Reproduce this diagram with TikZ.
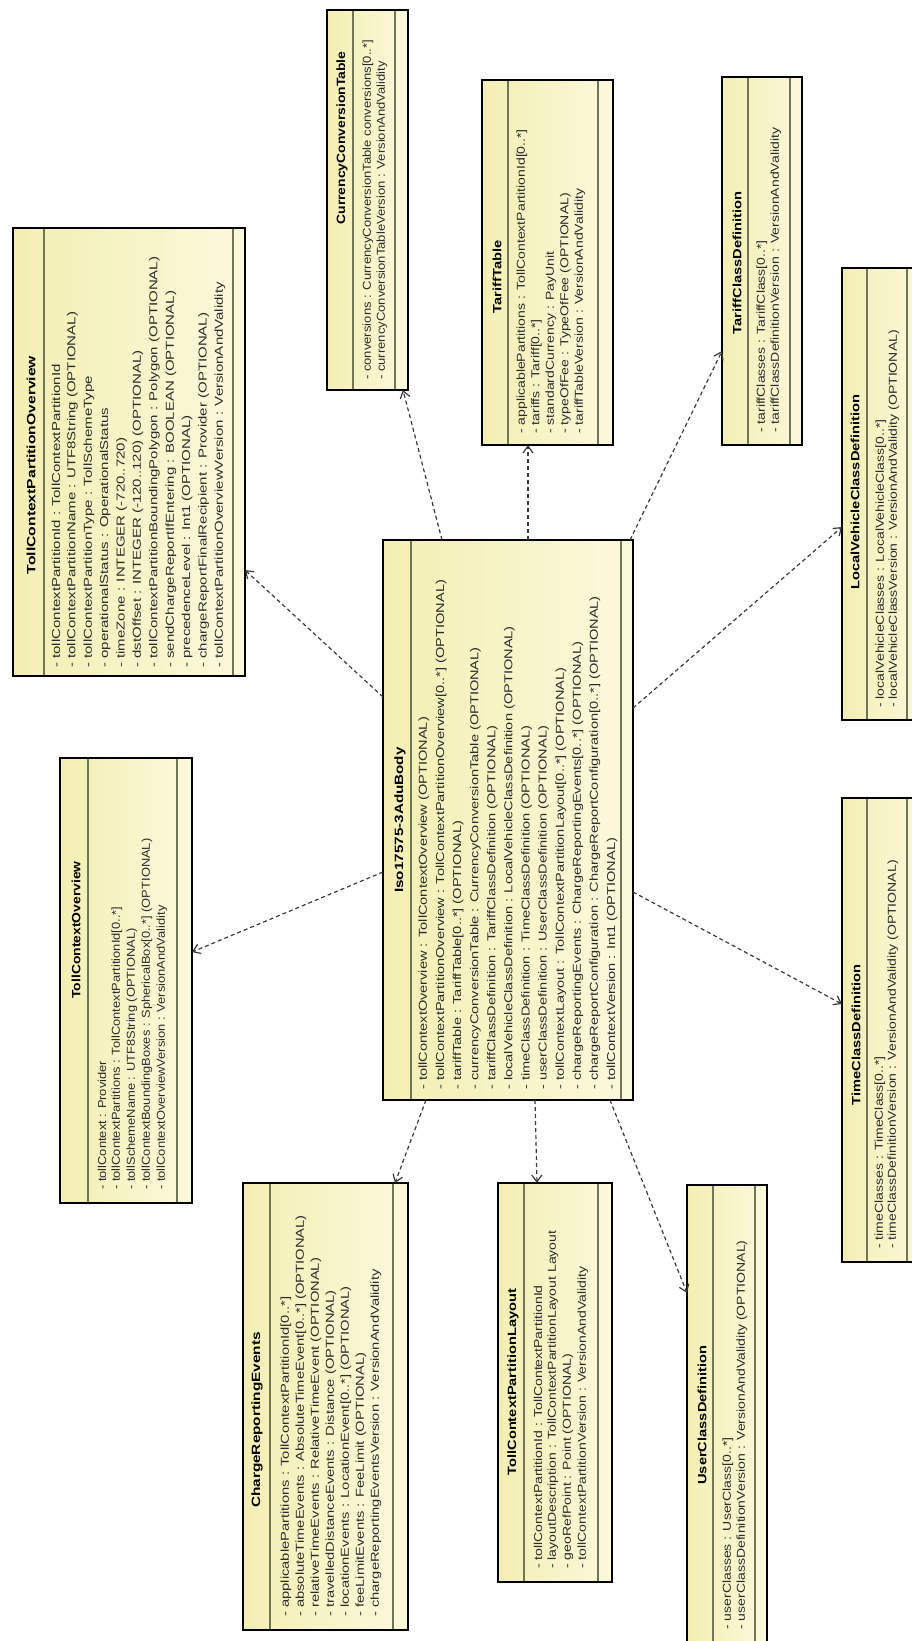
\documentclass[tikz,border=0pt]{standalone}
\usepackage{fontspec}
\setmainfont{Liberation Sans}
\usetikzlibrary{arrows.meta,calc}

\definecolor{boxfillA}{HTML}{F3EFB3}
\definecolor{boxfillB}{HTML}{FBF9DC}
\definecolor{sepcol}{HTML}{6F7658}
\definecolor{inkcol}{HTML}{2B2B2B}
\definecolor{depcol}{HTML}{3A3A3A}

\tikzset{
  classbox/.style={draw=black, line width=1.6pt, left color=boxfillA, right color=boxfillB,
    inner sep=0pt, outer sep=0pt},
  sepline/.style={draw=sepcol, line width=1.5pt},
  titletext/.style={rotate=90, xscale=1.22, inner sep=0pt,
    font=\fontsize{12}{14}\selectfont\bfseries, text=black},
  attrtext/.style={rotate=90, xscale=1.22, anchor=west, inner sep=0pt,
    font=\fontsize{11.5}{13}\selectfont, text=inkcol},
  dependency/.style={draw=depcol, line width=1.2pt, dash pattern=on 4pt off 3pt,
    -{Straight Barb[length=7pt,width=10pt,line width=1.2pt]}},
}

% frame of a class: name, left, top, right, bottom (page pixels, y downwards)
\newcommand{\classframe}[5]{%
  \node[classbox, minimum width={(#4-#2)*1pt}, minimum height={(#5-#3)*1pt}]
    (#1) at ({(#2+#4)/2},{-(#3+#5)/2}) {};}
% compartment separators: first x, second x, top, bottom
\newcommand{\classseps}[4]{%
  \draw[sepline] (#1,{-(#3+0.8)}) -- (#1,{-(#4-0.8)});
  \draw[sepline] (#2,{-(#3+0.8)}) -- (#2,{-(#4-0.8)});}
% class name: name, x, y, stretch, text
\newcommand{\classtitle}[5]{%
  \node[titletext, xscale=#4] (#1-title) at (#2,-#3) {#5};}
% attributes: name, first x, step, start y, stretch, list
\newcommand{\classattrs}[6]{%
  \foreach \attrline [count=\k] in {#6} {
    \node[attrtext, xscale=#5] (#1-attr\k) at ({#2+(\k-1)*#3},-#4) {\attrline};
  }}

\begin{document}
\begin{tikzpicture}[x=1pt,y=1pt]
\useasboundingbox (0,0) rectangle (912,-1641);
\fill[white] (0,0) rectangle (912,-1641);
\begin{scope}
\clip (0,0) rectangle (912,-1641);

% TollContextPartitionOverview
\classframe{tcpo}{13}{228}{245}{676}
\classseps{44}{233}{228}{676}
\classtitle{tcpo}{31}{465}{1.07}{TollContextPartitionOverview}
\classattrs{tcpo}{56}{16.4}{668}{1.07}{
  {- tollContextPartitionId : TollContextPartitionId},
  {- tollContextPartitionName : UTF8String (OPTIONAL)},
  {- tollContextPartitionType : TollSchemeType},
  {- operationalStatus : OperationalStatus},
  {- timeZone : INTEGER (-720..720)},
  {- dstOffset : INTEGER (-120..120) (OPTIONAL)},
  {- tollContextPartitionBoundingPolygon : Polygon (OPTIONAL)},
  {- sendChargeReportIfEntering : BOOLEAN (OPTIONAL)},
  {- precedenceLevel : Int1 (OPTIONAL)},
  {- chargeReportFinalRecipient : Provider (OPTIONAL)},
  {- tollContextPartitionOverviewVersion : VersionAndValidity}}

% CurrencyConversionTable
\classframe{cct}{327}{10}{408}{390}
\classseps{353}{395}{10}{390}
\classtitle{cct}{342}{138}{0.95}{CurrencyConversionTable}
\classattrs{cct}{368}{14}{380}{0.93}{
  {- conversions : CurrencyConversionTable conversions[0..*]},
  {- currencyConversionTableVersion : VersionAndValidity}}

% TariffTable
\classframe{tt}{482}{80}{613}{445}
\classseps{508}{598}{80}{445}
\classtitle{tt}{497}{277}{1.0}{TariffTable}
\classattrs{tt}{522}{14.5}{434}{1.0}{
  {- applicablePartitions : TollContextPartitionId[0..*]},
  {- tariffs : Tariff[0..*]},
  {- standardCurrency : PayUnit},
  {- typeOfFee : TypeOfFee (OPTIONAL)},
  {- tariffTableVersion : VersionAndValidity}}

% TariffClassDefinition
\classframe{tcd}{722}{77}{802}{445}
\classseps{748}{790}{77}{445}
\classtitle{tcd}{737}{263}{1.0}{TariffClassDefinition}
\classattrs{tcd}{762}{14}{433}{1.0}{
  {- tariffClasses : TariffClass[0..*]},
  {- tariffClassDefinitionVersion : VersionAndValidity}}

% LocalVehicleClassDefinition
\classframe{lvcd}{842}{268}{924}{720}
\classseps{867}{907}{268}{720}
\classtitle{lvcd}{855}{492}{1.0}{LocalVehicleClassDefinition}
\classattrs{lvcd}{881}{13}{708}{1.0}{
  {- localVehicleClasses : LocalVehicleClass[0..*]},
  {- localVehicleClassVersion : VersionAndValidity (OPTIONAL)}}

% TimeClassDefinition
\classframe{tdef}{842}{798}{924}{1262}
\classseps{867}{907}{798}{1262}
\classtitle{tdef}{856}{1035}{1.0}{TimeClassDefinition}
\classattrs{tdef}{880}{13}{1249}{1.0}{
  {- timeClasses : TimeClass[0..*]},
  {- timeClassDefinitionVersion : VersionAndValidity (OPTIONAL)}}

% Iso17575-3AduBody
\classframe{iso}{383}{540}{633}{1100}
\classseps{411}{621}{540}{1100}
\classtitle{iso}{400}{820}{1.04}{Iso17575-3AduBody}
\classattrs{iso}{424}{17.1}{1090}{1.04}{
  {- tollContextOverview : TollContextOverview (OPTIONAL)},
  {- tollContextPartitionOverview : TollContextPartitionOverview[0..*] (OPTIONAL)},
  {- tariffTable : TariffTable[0..*] (OPTIONAL)},
  {- currencyConversionTable : CurrencyConversionTable (OPTIONAL)},
  {- tariffClassDefinition : TariffClassDefinition (OPTIONAL)},
  {- localVehicleClassDefinition : LocalVehicleClassDefinition (OPTIONAL)},
  {- timeClassDefinition : TimeClassDefinition (OPTIONAL)},
  {- userClassDefinition : UserClassDefinition (OPTIONAL)},
  {- tollContextLayout : TollContextPartitionLayout[0..*] (OPTIONAL)},
  {- chargeReportingEvents : ChargeReportingEvents[0..*] (OPTIONAL)},
  {- chargeReportConfiguration : ChargeReportConfiguration[0..*] (OPTIONAL)},
  {- tollContextVersion : Int1 (OPTIONAL)}}

% TollContextOverview
\classframe{tco}{60}{758}{192}{1203}
\classseps{88}{177}{758}{1203}
\classtitle{tco}{76}{930}{0.95}{TollContextOverview}
\classattrs{tco}{102}{15}{1190}{0.92}{
  {- tollContext : Provider},
  {- tollContextPartitions : TollContextPartitionId[0..*]},
  {- tollSchemeName : UTF8String (OPTIONAL)},
  {- tollContextBoundingBoxes : SphericalBox[0..*] (OPTIONAL)},
  {- tollContextOverviewVersion : VersionAndValidity}}

% ChargeReportingEvents
\classframe{cre}{243}{1183}{408}{1630}
\classseps{270}{393}{1183}{1630}
\classtitle{cre}{257}{1420}{1.05}{ChargeReportingEvents}
\classattrs{cre}{286}{15}{1617}{1.05}{
  {- applicablePartitions : TollContextPartitionId[0..*]},
  {- absoluteTimeEvents : AbsoluteTimeEvent[0..*] (OPTIONAL)},
  {- relativeTimeEvents : RelativeTimeEvent (OPTIONAL)},
  {- travelledDistanceEvents : Distance (OPTIONAL)},
  {- locationEvents : LocationEvent[0..*] (OPTIONAL)},
  {- feeLimitEvents : FeeLimit (OPTIONAL)},
  {- chargeReportingEventsVersion : VersionAndValidity}}

% TollContextPartitionLayout
\classframe{tcpl}{498}{1183}{612}{1582}
\classseps{524}{598}{1183}{1582}
\classtitle{tcpl}{513}{1382}{1.0}{TollContextPartitionLayout}
\classattrs{tcpl}{538}{15}{1569}{1.0}{
  {- tollContextPartitionId : TollContextPartitionId},
  {- layoutDescription : TollContextPartitionLayout Layout},
  {- geoRefPoint : Point (OPTIONAL)},
  {- tollContextPartitionVersion : VersionAndValidity}}

% UserClassDefinition
\classframe{ucd}{687}{1185}{767}{1648}
\classseps{713}{755}{1185}{1648}
\classtitle{ucd}{702}{1415}{1.0}{UserClassDefinition}
\classattrs{ucd}{728}{14}{1630}{1.0}{
  {- userClasses : UserClass[0..*]},
  {- userClassDefinitionVersion : VersionAndValidity (OPTIONAL)}}

% dependencies of the ADU body
\draw[dependency] ($(iso.north west)+(0,-157)$) -- ($(tcpo.north east)+(0,-342)$);
\draw[dependency] ($(iso.north west)+(59,0)$) -- ($(cct.south west)+(76,0)$);
\draw[dependency] ($(iso.north west)+(145,0)$) -- ($(tt.south west)+(46,0)$);
\draw[dependency] ($(iso.north east)+(-3,0)$) -- ($(tcd.north west)+(0,-274)$);
\draw[dependency] ($(iso.north east)+(0,-168)$) -- ($(lvcd.north west)+(0,-259)$);
\draw[dependency] ($(iso.north east)+(0,-352)$) -- ($(tdef.north west)+(0,-206)$);
\draw[dependency] ($(iso.south west)+(227,0)$) -- ($(ucd.north west)+(0,-108)$);
\draw[dependency] ($(iso.south west)+(152,0)$) -- ($(tcpl.north west)+(39,0)$);
\draw[dependency] ($(iso.south west)+(43,0)$) -- ($(cre.north west)+(152,0)$);
\draw[dependency] ($(iso.north west)+(0,-332)$) -- ($(tco.north east)+(0,-194)$);
\end{scope}
\end{tikzpicture}
\end{document}
